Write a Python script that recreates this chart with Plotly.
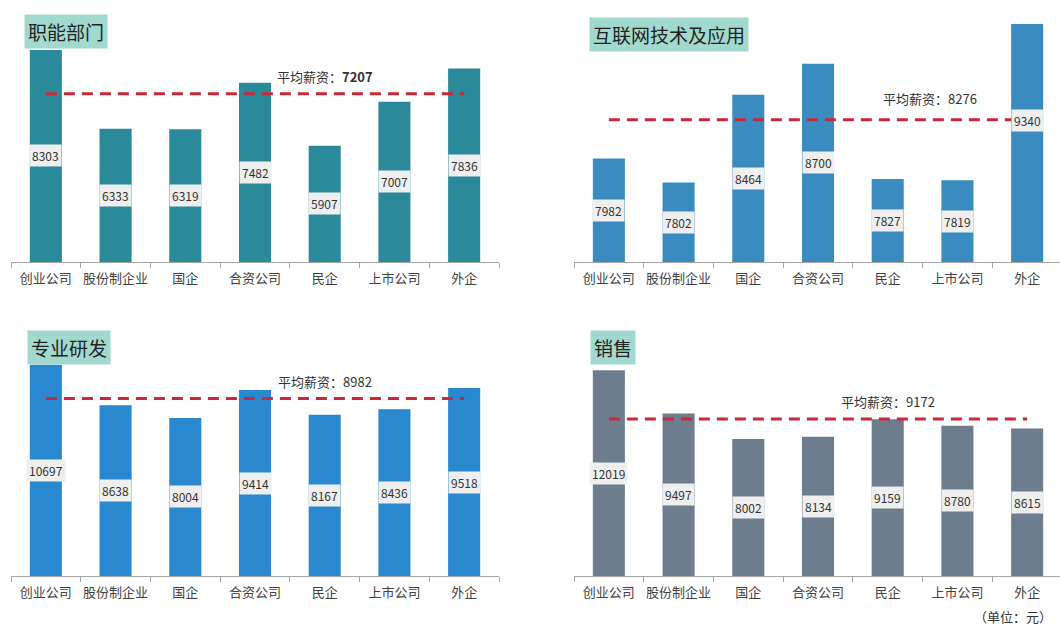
import plotly.graph_objects as go

categories = ["创业公司", "股份制企业", "国企", "合资公司", "民企", "上市公司", "外企"]

titles = ["职能部门", "互联网技术及应用", "专业研发", "销售"]
values_func = [8303, 6333, 6319, 7482, 5907, 7007, 7836]
values_net = [7982, 7802, 8464, 8700, 7827, 7819, 9340]
values_rd = [10697, 8638, 8004, 9414, 8167, 8436, 9518]
values_sales = [12019, 9497, 8002, 8134, 9159, 8780, 8615]
averages = [7207, 8276, 8982, 9172]
avg_label = "平均薪资："
unit_label = "（单位：元）"

series = [values_func, values_net, values_rd, values_sales]
colors = ["#2a8a99", "#3a8cc0", "#2a88cf", "#6e7d8e"]
y_ranges = [[3000, 9000], [7200, 9000], [0, 12150], [0, 14020]]

W, H = 1060, 628
FONT = "Noto Sans CJK SC, Noto Sans, sans-serif"

# pixel layout of each panel: (x0, x1, y_top, y_bottom)
px = [
    (11, 499, 22, 262),
    (574, 1060, 24, 262),
    (11, 499, 336, 576),
    (574, 1060, 336, 576),
]
cat_w = (499 - 11) / 7.0

title_pos = [(24, 14), (589, 17), (27, 330), (590, 330)]
avg_pos = [(4.0, 17), (4.6, 21), (4.0, 17), (4.0, 17)]

fig = go.Figure()
annotations = []
layout = {}

for i in range(4):
    sfx = "" if i == 0 else str(i + 1)
    x0, x1, yt, yb = px[i]
    n_cats = (x1 - x0) / cat_w
    layout["xaxis" + sfx] = dict(
        domain=[x0 / W, x1 / W],
        anchor="y" + sfx,
        type="category",
        range=[-0.5, -0.5 + n_cats],
        showline=True, linecolor="#a6a6a6", linewidth=1,
        ticks="outside", tickson="boundaries", ticklen=5, tickcolor="#a6a6a6",
        tickangle=0, ticklabelstandoff=4,
        tickfont=dict(family=FONT, size=13, color="#404040"),
        showgrid=False, zeroline=False, fixedrange=True,
    )
    layout["yaxis" + sfx] = dict(
        domain=[1 - yb / H, 1 - yt / H],
        anchor="x" + sfx,
        range=y_ranges[i],
        visible=False, showgrid=False, zeroline=False, fixedrange=True,
    )
    vals = series[i]
    fig.add_trace(go.Bar(
        x=categories, y=vals, marker=dict(color=colors[i], line=dict(width=0)),
        width=0.46, xaxis="x" + sfx, yaxis="y" + sfx, hoverinfo="x+y",
        showlegend=False,
    ))
    fig.add_trace(go.Scatter(
        x=[categories[0], categories[-1]], y=[averages[i], averages[i]],
        mode="lines", line=dict(color="#c9283a", width=3, dash="11px,7px"),
        xaxis="x" + sfx, yaxis="y" + sfx, hoverinfo="skip", showlegend=False,
    ))
    base = y_ranges[i][0]
    for c, v in zip(categories, vals):
        annotations.append(dict(
            x=c, y=(base + v) / 2, xref="x" + sfx, yref="y" + sfx,
            text=str(v), showarrow=False, bgcolor="#efefef", borderpad=2,
            font=dict(family=FONT, size=12, color="#333333"),
        ))
    avg_txt = avg_label + ("<b>%d</b>" % averages[i] if i == 0 else str(averages[i]))
    ax, ys = avg_pos[i]
    annotations.append(dict(
        x=ax, y=averages[i], xref="x" + sfx, yref="y" + sfx, yshift=ys,
        text=avg_txt, showarrow=False,
        font=dict(family=FONT, size=13, color="#333333"),
    ))
    tx, ty = title_pos[i]
    annotations.append(dict(
        x=tx / W, y=1 - ty / H, xref="paper", yref="paper",
        xanchor="left", yanchor="top", text=titles[i], showarrow=False,
        bgcolor="#a2d9cf", borderpad=3,
        font=dict(family=FONT, size=19, color="#222222"),
    ))

annotations.append(dict(
    x=1054 / W, y=1 - 616 / H, xref="paper", yref="paper",
    xanchor="right", yanchor="middle", text=unit_label, showarrow=False,
    font=dict(family=FONT, size=13, color="#333333"),
))

fig.update_layout(
    width=W, height=H,
    margin=dict(l=0, r=0, t=0, b=0),
    paper_bgcolor="white", plot_bgcolor="white",
    annotations=annotations,
    bargap=0.54,
    **layout,
)

fig.write_html("out.html", config={"displayModeBar": False},
               post_script="document.body.style.margin='0px';")
